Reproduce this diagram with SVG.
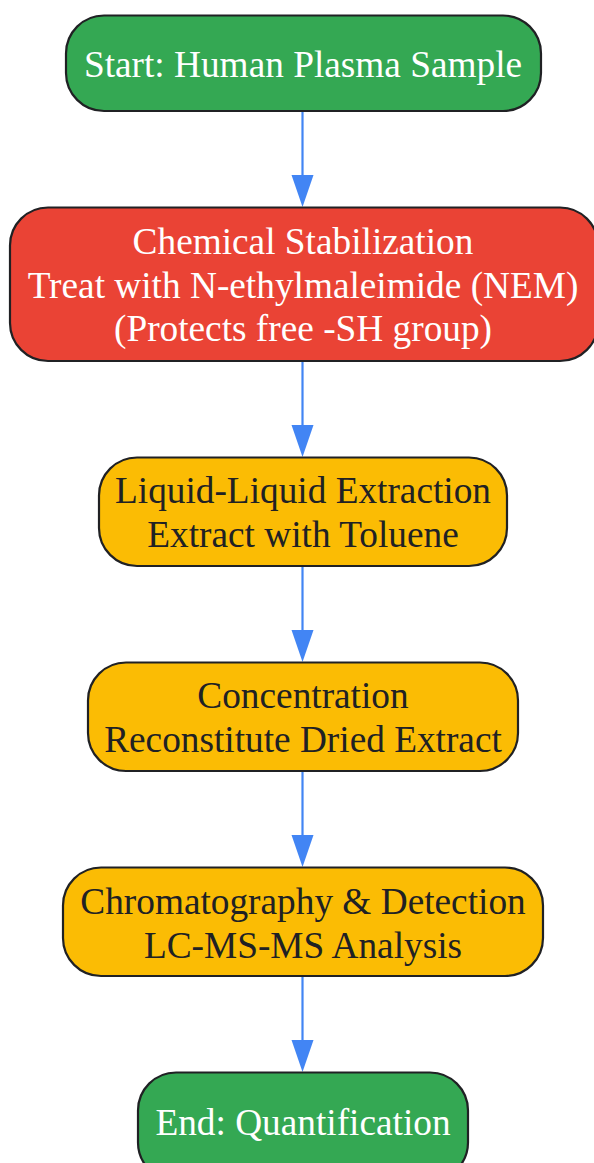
<svg xmlns="http://www.w3.org/2000/svg" width="594" height="1163" viewBox="0 0 594 1163">
<defs>
<style>
.box{stroke:#202124;stroke-width:2.2}
.g{fill:#34A853}.r{fill:#EA4335}.y{fill:#FBBC04}
text{font-family:"Liberation Serif","Times New Roman",serif;font-size:37.3px;text-anchor:middle}
.w{fill:#ffffff}.d{fill:#202124}
.edge{stroke:#4285F4;stroke-width:2.2;fill:none}
.head{fill:#4285F4}
</style>
</defs>
<rect width="594" height="1163" fill="#ffffff"/>
<g id="connectors">
<line class="edge" x1="302.5" y1="111" x2="302.5" y2="175"/><path class="head" d="M291.5,175 L313.5,175 L302.5,207 Z"/>
<line class="edge" x1="302.5" y1="361" x2="302.5" y2="425"/><path class="head" d="M291.5,425 L313.5,425 L302.5,457 Z"/>
<line class="edge" x1="302.5" y1="566" x2="302.5" y2="630"/><path class="head" d="M291.5,630 L313.5,630 L302.5,662 Z"/>
<line class="edge" x1="302.5" y1="771" x2="302.5" y2="835"/><path class="head" d="M291.5,835 L313.5,835 L302.5,867 Z"/>
<line class="edge" x1="302.5" y1="976" x2="302.5" y2="1040"/><path class="head" d="M291.5,1040 L313.5,1040 L302.5,1072 Z"/>
</g>
<g id="start">
<rect class="box g" x="66" y="15.5" width="475" height="95.5" rx="38"/>
<text class="w" x="303" y="77">Start: Human Plasma Sample</text>
</g>
<g id="stabilization">
<rect class="box r" x="10" y="207.5" width="588" height="153.5" rx="38"/>
<text class="w" x="303" y="254">Chemical Stabilization</text>
<text class="w" x="303" y="297.5">Treat with N-ethylmaleimide (NEM)</text>
<text class="w" x="303" y="341">(Protects free -SH group)</text>
</g>
<g id="extraction">
<rect class="box y" x="99" y="457.5" width="408" height="108.5" rx="38"/>
<text class="d" x="303" y="503">Liquid-Liquid Extraction</text>
<text class="d" x="303" y="547">Extract with Toluene</text>
</g>
<g id="concentration">
<rect class="box y" x="88" y="662.5" width="430" height="108.5" rx="38"/>
<text class="d" x="303" y="708">Concentration</text>
<text class="d" x="303" y="752">Reconstitute Dried Extract</text>
</g>
<g id="chromatography">
<rect class="box y" x="63" y="867.5" width="480" height="108.5" rx="38"/>
<text class="d" x="303" y="914">Chromatography &amp; Detection</text>
<text class="d" x="303" y="958">LC-MS-MS Analysis</text>
</g>
<g id="end">
<rect class="box g" x="138" y="1072.5" width="330" height="108" rx="38"/>
<text class="w" x="303" y="1135">End: Quantification</text>
</g>
</svg>
